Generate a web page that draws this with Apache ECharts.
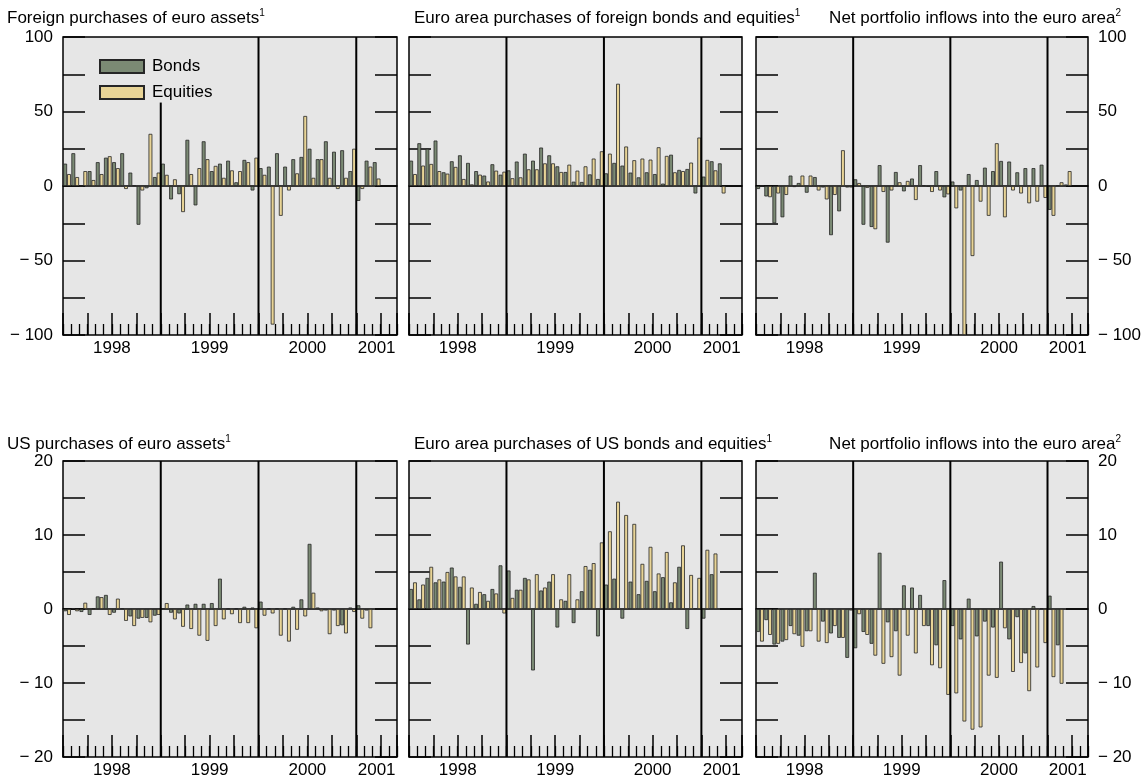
<!DOCTYPE html>
<html><head><meta charset="utf-8">
<script src="https://cdn.jsdelivr.net/npm/echarts@6/dist/echarts.min.js"></script>
<style>html,body{margin:0;padding:0;background:#fff}#c{width:1148px;height:783px}</style>
</head><body><div id="c"></div>
<script>
const months = ['1998-01','1998-02','1998-03','1998-04','1998-05','1998-06','1998-07','1998-08','1998-09','1998-10','1998-11','1998-12',
'1999-01','1999-02','1999-03','1999-04','1999-05','1999-06','1999-07','1999-08','1999-09','1999-10','1999-11','1999-12',
'2000-01','2000-02','2000-03','2000-04','2000-05','2000-06','2000-07','2000-08','2000-09','2000-10','2000-11','2000-12',
'2001-01','2001-02','2001-03','2001-04','2001-05'];
const yearLabels = ['1998','1999','2000','2001'];
const yearLabelPos = [6,18,30,38.5];
const yearBounds = [12,24,36];
const topLabels = [-100,-50,0,50,100];
const botLabels = [-20,-10,0,10,20];

// Foreign purchases of euro assets
const bonds1 = [15,22,0,10,16,19,16,22,9,-26,-1.5,6, 15,-9,-5.5,31,-13,30,10,15,17,2.5,17.5,-3, 12,13,22,13,18,19.5,25,18,30,23,24,10, -10,17,16,null,null];
const equities1 = [8,6,10,4,8,20,12,-2,0.5,-3,35,9, 7.5,4.5,-17.5,8,12,18,13.5,5.5,10.5,10,16,19, 7.5,-93,-20,-3,8.5,47,5.5,18,5.5,-2,5.5,25, -2,13,5,null,null];
// Euro area purchases of foreign bonds and equities
const bonds2 = [17,28.7,25,30.5,9.2,16.6,20.6,15.5,10,7,14.6,7.6, 10.5,16.4,21.7,17,25.8,20.6,13.2,9.4,2.9,2.7,7.8,4.7, 8.5,15.5,13.7,9,5.8,9.2,8,1.6,21,10.8,11.4,-5, 6.3,16.6,15.2,null,null];
const equities2 = [8,13.7,14.8,10,8.3,12.8,4.7,1.1,7.6,3,10.3,9.6, 5.2,5.8,11.2,11.2,15.2,15.2,9.4,14.3,10.3,13.2,18.4,23.3, 21.7,68.6,26.5,17.3,18.4,17.7,26,20.2,9.2,10,15.7,32.5, 17.5,10.5,-5,null,null];
// Net portfolio inflows (top)
const bonds3 = [-2,-7,-25,-21,7,2,-4.5,6,-1,-33,-17,-1, 4.5,-26,-27.5,14,-38,9.4,-3.6,5,14,-0.4,10,-7.6, 3,-3,8,4,12.3,10,16.8,16.4,9.2,12,12,14.3, -16,0.5,1,null,null];
const equities3 = [0,-7.5,-5,-6,-0.7,7,7,-3,-9,-6,24,-1, 2,-1.3,-29,-4,-3,2.5,3.4,-9.4,0.5,-4,-3,-5.6, -15,-100,-47,-10.5,-20,28.7,-21,-3,-5,-11.6,-10.5,-8, -20,2.5,10,null,null];
// US purchases of euro assets
const bonds4 = [-0.3,0.1,-0.4,-0.8,1.7,1.9,-0.5,0.1,-1,-1.3,-1.2,-0.9, 0.1,-0.5,-0.6,0.6,0.7,0.7,0.8,4.1,0.1,0.1,0.3,0.2, 1.0,0.1,0.1,0.1,0.3,1.3,8.8,0.2,-0.2,-0.2,-2.2,0.2, 0.5,-0.2,null,null,null];
const equities4 = [-0.8,-0.3,0.85,0.1,1.6,-0.8,1.4,-1.6,-2.3,-1.2,-1.8,-0.8, 0.8,-1.4,-2.4,-2.7,-3.6,-4.3,-2.3,-1.4,-0.7,-1.9,-1.9,-2.6, -0.9,-0.6,-3.6,-4.4,-2.8,-1,2.2,-0.3,-3.4,-2.3,-3.3,-0.4, -1.3,-2.6,null,null,null];
// Euro area purchases of US bonds and equities
const bonds5 = [2.7,1.3,4.2,3.6,3.7,5.6,3.0,-4.8,0.7,2.0,2.7,5.9, 5.2,2.6,4.2,-8.3,2.5,3.7,-2.5,1.1,-1.9,2.4,5.3,-3.7, 3.3,4.1,-1.3,3.7,2.0,3.8,2.4,4.3,0.9,5.7,-2.7,0.1, -1.3,4.7,null,null,null];
const equities5 = [3.6,3.3,5.7,4.0,5.0,4.4,4.4,2.9,2.3,1.1,2.1,-0.6, 1.5,2.6,4.0,4.7,2.9,4.7,1.3,4.7,1.3,5.8,6.2,9.0, 10.5,14.5,12.7,11.5,6.1,8.4,4.8,7.7,3.6,8.6,4.6,4.2, 8.0,7.5,null,null,null];
// Net portfolio inflows (bottom)
const bonds6 = [-3.1,-1.5,-4.8,-4.4,-2.3,-3.6,-3,4.9,-1.7,-3.3,-3.9,-6.6, -5.3,-3.1,-4.7,7.6,-1.8,-3,3.2,2.9,1.9,-2.3,-4.9,3.9, -2.3,-4.1,1.4,-3.7,-1.7,-2.5,6.4,-4.1,-1.1,-6,0.4,0.1, 1.8,-4.9,null,null,null];
const equities6 = [-4.4,-3.5,-4.7,-4.2,-3.4,-5.1,-3,-4.4,-4.6,-2.3,-3.9,-0.2, -0.7,-3.5,-6.3,-7.4,-6.5,-9,-3.6,-6,-2.3,-7.6,-8,-11.6, -11.4,-15.2,-16.3,-16,-9,-9.3,-2.6,-8.5,-7.3,-11.1,-7.9,-4.6, -9.2,-10.1,null,null,null];

const panelTitles = ['Foreign purchases of euro assets','Euro area purchases of foreign bonds and equities','Net portfolio inflows into the euro area',
  'US purchases of euro assets','Euro area purchases of US bonds and equities','Net portfolio inflows into the euro area'];
const panelSup = ['1','1','2','1','1','2'];

const FONT = 'Liberation Sans, Arial, Helvetica, sans-serif';
const BOND_COLOR = '#7b8a74';
const EQ_COLOR = '#e8d496';

const panels = [
  {bonds:bonds1, equities:equities1, row:0, col:0},
  {bonds:bonds2, equities:equities2, row:0, col:1},
  {bonds:bonds3, equities:equities3, row:0, col:2},
  {bonds:bonds4, equities:equities4, row:1, col:0},
  {bonds:bonds5, equities:equities5, row:1, col:1},
  {bonds:bonds6, equities:equities6, row:1, col:2}
];
const colLeft = [63,409,756], colWidth = [334,333,332];
const rowTop = [37,461], rowHeight = [298,296];
const rowRange = [[-100,100,25,topLabels],[-20,20,5,botLabels]];

function fmtY(v){ return v < 0 ? '\u2212 ' + (-v) : String(v); }

const grid=[], xAxis=[], yAxis=[], series=[], title=[];
panels.forEach((p,i)=>{
  const [ymin,ymax,step,labs] = rowRange[p.row];
  grid.push({left:colLeft[p.col], top:rowTop[p.row], width:colWidth[p.col], height:rowHeight[p.row],
    show:true, backgroundColor:'#e6e6e6', borderColor:'#000', borderWidth:1.5, containLabel:false});
  xAxis.push({gridIndex:i, type:'category', data:months, boundaryGap:true,
    axisLine:{show:true,onZero:true,lineStyle:{color:'#000',width:1.5}},
    axisTick:{show:false}, axisLabel:{show:false}, splitLine:{show:false}});
  xAxis.push({gridIndex:i, type:'value', min:0, max:41, interval:3, position:'bottom',
    axisLine:{show:false,onZero:false},
    axisTick:{show:true,inside:true,length:22,lineStyle:{color:'#000',width:1.5}},
    axisLabel:{show:true, customValues:yearLabelPos, margin:5, fontSize:17, color:'#000', fontFamily:FONT,
      formatter:v=>{const k=yearLabelPos.indexOf(v); return k>=0?yearLabels[k]:'';}},
    splitLine:{show:false}});
  xAxis.push({gridIndex:i, type:'value', min:0, max:41, interval:1, position:'bottom',
    axisLine:{show:false,onZero:false},
    axisTick:{show:true,inside:true,length:11,lineStyle:{color:'#000',width:1.3}},
    axisLabel:{show:false}, splitLine:{show:false}});
  const yl = {fontSize:17, color:'#000', fontFamily:FONT, margin:10,
    formatter:v=> labs.indexOf(v)>=0 ? fmtY(v) : ''};
  yAxis.push({gridIndex:i, type:'value', min:ymin, max:ymax, interval:step, position:'left',
    axisLine:{show:false,onZero:false},
    axisTick:{show:true,inside:true,length:22,lineStyle:{color:'#000',width:1.5}},
    axisLabel:Object.assign({show:p.col===0}, yl), splitLine:{show:false}});
  yAxis.push({gridIndex:i, type:'value', min:ymin, max:ymax, interval:step, position:'right',
    axisLine:{show:false,onZero:false},
    axisTick:{show:true,inside:true,length:22,lineStyle:{color:'#000',width:1.5}},
    axisLabel:Object.assign({show:p.col===2}, yl), splitLine:{show:false}});
  series.push({type:'bar', name:'Bonds', xAxisIndex:3*i, yAxisIndex:2*i, data:p.bonds,
    barGap:'0%', barCategoryGap:'6%',
    itemStyle:{color:BOND_COLOR, borderColor:'#262626', borderWidth:0.8}, emphasis:{disabled:true}});
  series.push({type:'bar', name:'Equities', xAxisIndex:3*i, yAxisIndex:2*i, data:p.equities,
    barGap:'0%', barCategoryGap:'6%',
    itemStyle:{color:EQ_COLOR, borderColor:'#262626', borderWidth:0.8}, emphasis:{disabled:true}});
  series.push({type:'custom', xAxisIndex:3*i+1, yAxisIndex:2*i, silent:true, z:5,
    data: yearBounds.map((v,k)=>[v, (i===0 && k===0) ? 56 : ymax]),
    encode:{x:0,y:1},
    renderItem:(params, api)=>{
      const a = api.coord([api.value(0), ymin]);
      const b = api.coord([api.value(0), api.value(1)]);
      return {type:'line', shape:{x1:a[0],y1:a[1],x2:b[0],y2:b[1]}, style:{stroke:'#000', lineWidth:2}};
    }});
  const t = {text: panelTitles[i] + '{s|' + panelSup[i] + '}',
    top: p.row===0 ? 8 : 434, padding:0,
    textStyle:{fontSize:17, fontWeight:'normal', color:'#000', fontFamily:FONT, lineHeight:20,
      rich:{s:{fontSize:10, lineHeight:10, verticalAlign:'top', fontFamily:FONT, color:'#000'}}}};
  if (p.col===0) t.left = 7; else if (p.col===1) t.left = 414; else t.right = 27;
  title.push(t);
});

const chart = echarts.init(document.getElementById('c'), null, {renderer:'canvas'});
chart.setOption({
  animation:false,
  backgroundColor:'#fff',
  title, grid, xAxis, yAxis, series,
  legend:{data:['Bonds','Equities'], orient:'vertical', left:99, top:58, padding:0, itemWidth:44, itemHeight:13, itemGap:9,
    icon:'rect', selectedMode:false,
    textStyle:{fontSize:17, color:'#000', fontFamily:FONT, lineHeight:13, padding:[0,0,0,3]}}
});
</script></body></html>
